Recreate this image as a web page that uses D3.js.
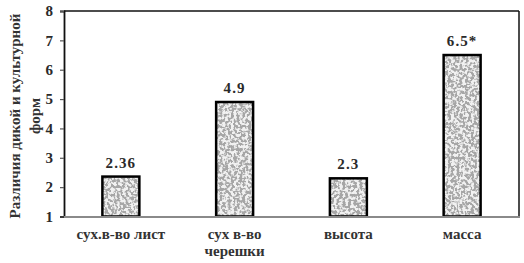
<!DOCTYPE html>
<html>
<head>
<meta charset="utf-8">
<script src="https://cdn.jsdelivr.net/npm/d3@7"></script>
<style>
	body { margin: 0; background: #fff; }
	svg text { font-family: "Liberation Serif", "Times New Roman", serif !important; font-weight: bold; }
</style>
</head>
<body>
<svg id="chart" width="524" height="263"></svg>
<script>
'use strict';

var categories = [["сух.в-во лист"], ["сух в-во", "черешки"], ["высота"], ["масса"]];
var values = [2.36, 4.9, 2.3, 6.5];
var valueLabels = ["2.36", "4.9", "2.3", "6.5*"];
var yTicks = [1, 2, 3, 4, 5, 6, 7, 8];
var yTitle = ["Различия дикой и культурной", "форм"];

var svg = d3.select("#chart");
var plotLeft = 64, plotRight = 519, plotTop = 11, plotBottom = 216.5;

var x = d3.scaleBand()
	.domain(d3.range(values.length))
	.range([plotLeft, plotRight])
	.paddingInner(0.675)
	.paddingOuter(0.3375);

var y = d3.scaleLinear()
	.domain([1, 8])
	.range([plotBottom, plotTop]);

// stipple texture for bars
var defs = svg.append("defs");
var filter = defs.append("filter")
	.attr("id", "stipple")
	.attr("x", 0).attr("y", 0).attr("width", 1).attr("height", 1);
filter.append("feTurbulence")
	.attr("type", "fractalNoise")
	.attr("baseFrequency", 0.35)
	.attr("numOctaves", 2)
	.attr("seed", 3)
	.attr("result", "noise");
filter.append("feFlood").attr("flood-color", "#b9b9b9").attr("result", "base");
filter.append("feComposite").attr("in", "base").attr("in2", "SourceGraphic").attr("operator", "in").attr("result", "baseIn");
filter.append("feColorMatrix")
	.attr("in", "noise")
	.attr("type", "matrix")
	.attr("values", "0 0 0 0 0.38  0 0 0 0 0.38  0 0 0 0 0.38  -7 0 0 0 3.9")
	.attr("result", "dots");
filter.append("feComposite").attr("in", "dots").attr("in2", "SourceGraphic").attr("operator", "in").attr("result", "dotsIn");
filter.append("feColorMatrix")
	.attr("in", "noise")
	.attr("type", "matrix")
	.attr("values", "0 0 0 0 0.88  0 0 0 0 0.88  0 0 0 0 0.88  7 0 0 0 -3.1")
	.attr("result", "lights");
filter.append("feComposite").attr("in", "lights").attr("in2", "SourceGraphic").attr("operator", "in").attr("result", "lightsIn");
var merge = filter.append("feMerge");
merge.append("feMergeNode").attr("in", "baseIn");
merge.append("feMergeNode").attr("in", "dotsIn");
merge.append("feMergeNode").attr("in", "lightsIn");

// frame
svg.append("line")
	.attr("x1", plotLeft).attr("x2", plotRight)
	.attr("y1", plotTop).attr("y2", plotTop)
	.attr("stroke", "#111").attr("stroke-width", 1.5);
svg.append("line")
	.attr("x1", plotRight).attr("x2", plotRight)
	.attr("y1", plotTop).attr("y2", plotBottom)
	.attr("stroke", "#111").attr("stroke-width", 1.5);

// bars
var bars = svg.selectAll("g.bar")
	.data(values)
	.enter()
	.append("g")
	.attr("class", "bar");

bars.append("rect")
	.attr("x", function(d, i) { return x(i); })
	.attr("y", function(d) { return y(d); })
	.attr("width", x.bandwidth())
	.attr("height", function(d) { return y(1) - y(d); })
	.attr("fill", "#aaa")
	.attr("filter", "url(#stipple)");

bars.append("rect")
	.attr("x", function(d, i) { return x(i); })
	.attr("y", function(d) { return y(d); })
	.attr("width", x.bandwidth())
	.attr("height", function(d) { return y(1) - y(d); })
	.attr("fill", "none")
	.attr("stroke", "#000")
	.attr("stroke-width", 2.5);

bars.append("text")
	.attr("x", function(d, i) { return x(i) + x.bandwidth() / 2; })
	.attr("y", function(d) { return y(d) - 9; })
	.attr("text-anchor", "middle")
	.attr("font-size", 15)
	.attr("letter-spacing", 1.1)
	.attr("fill", "#2a2a2a")
	.text(function(d, i) { return valueLabels[i]; });

// y axis
var yAxis = svg.append("g")
	.attr("transform", "translate(" + plotLeft + ",0)")
	.call(d3.axisLeft(y).tickValues(yTicks).tickSize(4).tickPadding(7).tickFormat(d3.format("d")));
yAxis.attr("font-family", "Liberation Serif");
yAxis.select(".domain").attr("stroke", "#111").attr("stroke-width", 1.8);
yAxis.selectAll(".tick line").attr("stroke", "#555").attr("stroke-width", 1.2);
yAxis.selectAll(".tick text")
	.attr("font-size", 15)
	.attr("fill", "#2a2a2a");

// x baseline
svg.append("line")
	.attr("x1", plotLeft).attr("x2", plotRight + 1)
	.attr("y1", plotBottom + 0.5).attr("y2", plotBottom + 0.5)
	.attr("stroke", "#8a8a8a").attr("stroke-width", 2);

// category labels
var catLabels = svg.selectAll("text.cat")
	.data(categories)
	.enter()
	.append("text")
	.attr("class", "cat")
	.attr("x", function(d, i) { return x(i) + x.bandwidth() / 2; })
	.attr("y", 238.5)
	.attr("text-anchor", "middle")
	.attr("font-size", 15)
	.attr("fill", "#333");
catLabels.selectAll("tspan")
	.data(function(d) { return d; })
	.enter()
	.append("tspan")
	.attr("x", function() { return d3.select(this.parentNode).attr("x"); })
	.attr("dy", function(d, i) { return i === 0 ? 0 : 17; })
	.text(function(d) { return d; });

// y title
var title = svg.append("text")
	.attr("transform", "translate(20,116) rotate(-90)")
	.attr("text-anchor", "middle")
	.attr("font-size", 15)
	.attr("fill", "#333");
title.selectAll("tspan")
	.data(yTitle)
	.enter()
	.append("tspan")
	.attr("x", 0)
	.attr("dy", function(d, i) { return i === 0 ? 0 : 20; })
	.text(function(d) { return d; });
</script>
</body>
</html>
